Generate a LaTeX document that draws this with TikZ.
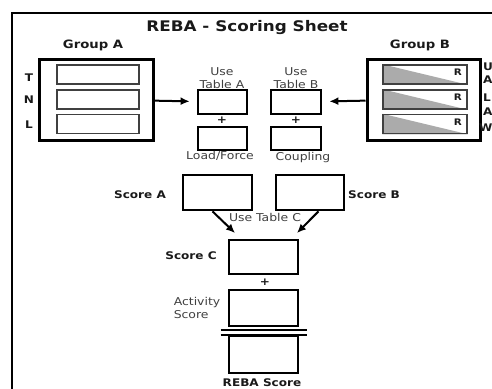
\documentclass[tikz,border=0pt]{standalone}
\usepackage{fontspec}
\setmainfont{DejaVu Sans}[FakeStretch=1.15]
\usetikzlibrary{calc,positioning,arrows.meta}

\tikzset{
  sbox/.style 2 args={draw, line width=2.7pt, minimum width=#1, minimum height=#2, inner sep=0pt},
  rowbox/.style={draw=black!75, line width=1.5pt, minimum width=#1, minimum height=19pt, inner sep=0pt},
  grp/.style 2 args={draw, line width=3pt, minimum width=#1, minimum height=#2, inner sep=0pt},
  lab/.style={text=black!75, font=\fontsize{10.8}{13}\selectfont, inner sep=0pt},
  blab/.style={text=black!90, font=\bfseries\fontsize{10.5}{13}\selectfont, inner sep=0pt},
  arr/.style={line width=2pt, -{Latex[length=9pt,width=8pt]}},
}

\begin{document}
\begin{tikzpicture}[x=1pt,y=-1pt]
        \useasboundingbox (0,0) rectangle (492,388);
        \clip (0,0) rectangle (492,388);

        % frame of the sheet
        \draw[line width=1.6pt] (12,13) rectangle (520,420);
        \node[blab, font=\bfseries\fontsize{14.6}{17}\selectfont] (title) at (247,28) {REBA - Scoring Sheet};

        % Group A
        \node[blab, font=\bfseries\fontsize{11.5}{13}\selectfont] (ga) at (93,45) {Group A};
        \node[grp={114pt}{81pt}] (grpA) at (96,99.5) {};
        \node[rowbox=82pt] (a1) at (98,74.5) {};
        \node[rowbox=82pt] (a2) at (98,99.5) {};
        \node[rowbox=82pt] (a3) at (98,124) {};
        \node[blab] (t) at (29,78) {T};
        \node[blab] (n) at (29,100) {N};
        \node[blab] (l) at (29,125) {L};

        % Group B
        \node[blab, font=\bfseries\fontsize{11.5}{13}\selectfont] (gb) at (420,45) {Group B};
        \node[grp={113pt}{81pt}] (grpB) at (423.5,99.5) {};
        \foreach \yy/\nm in {74.5/b1, 99.5/b2, 124/b3}{
            \node[rowbox=84pt] (\nm) at (425,\yy) {};
            \fill[black!33] (\nm.north west) -- (\nm.south west) -- (\nm.south east) -- cycle;
            \node[rowbox=84pt] at (\nm) {};
            \node[blab, font=\bfseries\fontsize{9}{11}\selectfont] at ($(\nm.east)+(-10,-2)$) {R};
        }
        % cut off at the edge of the sheet
        \node[blab, anchor=west] (ua1) at (483,67) {U};
        \node[blab, anchor=west] (ua2) at (483,80) {A};
        \node[blab, anchor=west] (la1) at (483,98) {L};
        \node[blab, anchor=west] (la2) at (483,112) {A};
        \node[blab, anchor=west] (wr) at (479,128) {W};

        % tables A and B
        \node[sbox={49pt}{24pt}] (tabA) at (222.5,102) {};
        \node[sbox={49pt}{23pt}] (load) at (222.5,138.5) {};
        \node[sbox={50pt}{24pt}] (tabB) at (296,102) {};
        \node[sbox={50pt}{23pt}] (coup) at (296,138.5) {};
        \node[lab, align=center] (useA) at (222,78.5) {Use\\Table A};
        \node[lab, align=center] (useB) at (296,78.5) {Use\\Table B};
        \node[blab] (pA) at (222,120) {+};
        \node[blab] (pB) at (296,120) {+};
        \node[lab] (lf) at (220,156) {Load/Force};
        \node[lab] (cp) at (303,158) {Coupling};

        \draw[arr, shorten >=7pt] (grpA) -- (tabA);
        \draw[arr, shorten >=7pt] (grpB) -- (tabB);

        % scores
        \node[sbox={69pt}{35pt}] (scA) at (217.5,192.5) {};
        \node[sbox={68pt}{35pt}] (scB) at (310,192.5) {};
        \node[blab] (lsA) at (140,195) {Score A};
        \node[blab] (lsB) at (374,195) {Score B};

        \node[sbox={69pt}{34pt}] (scC) at (263.5,257) {};
        \node[sbox={69pt}{36pt}] (act) at (263.5,308) {};
        \node[sbox={69pt}{37pt}] (reba) at (263.5,354.5) {};

        \coordinate (tipA) at (235,233);
        \coordinate (tipB) at (297,233);
        \draw[arr] ($(scA.south west)!0.43!(scA.south east)$) -- (tipA);
        \draw[arr] ($(scB.south west)!0.62!(scB.south east)$) -- (tipB);
        \node[lab] (tc) at (265,217) {Use Table C};

        \node[blab] (lsC) at (191,256) {Score C};
        \node[blab] (pC) at (265,282) {+};
        \node[lab, align=left] (la) at (197,308) {Activity\\Score};

        % equals sign
        \draw[line width=1.8pt] ($(act.south)+(-43,3)$) -- ++(86,0);
        \draw[line width=1.8pt] ($(act.south)+(-43,7.5)$) -- ++(86,0);

        \node[blab] (lr) at (262,383) {REBA Score};

    \end{tikzpicture}
\end{document}
